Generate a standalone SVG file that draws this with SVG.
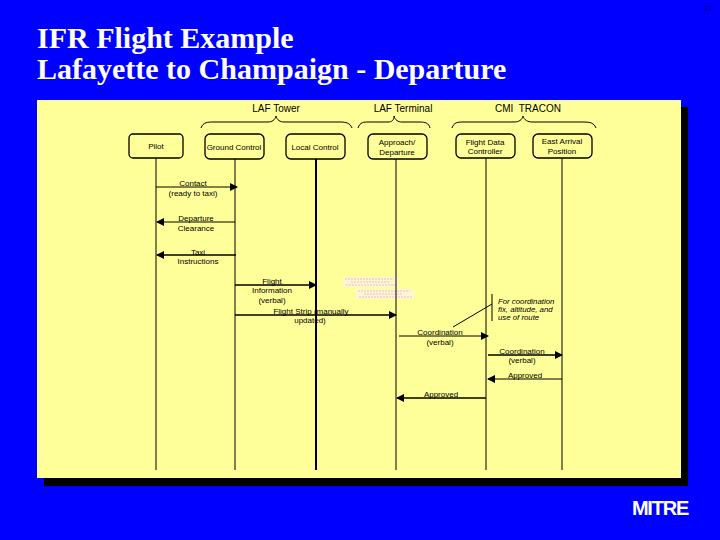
<svg xmlns="http://www.w3.org/2000/svg" width="720" height="540" viewBox="0 0 720 540">
<defs>
<marker id="ah" viewBox="0 0 8 8" refX="7" refY="4" markerWidth="8" markerHeight="8" markerUnits="userSpaceOnUse" orient="auto"><path d="M0,0L8,4L0,8Z" fill="#000"/></marker>
</defs>
<style>
text{font-family:"Liberation Sans",Arial,sans-serif;font-size:8px;fill:#000;text-anchor:middle}
.h{font-size:10px;white-space:pre}
.t{font-family:"Liberation Serif","Times New Roman",serif;font-size:30px;font-weight:bold;fill:#fff;text-anchor:start}
.i{font-style:italic;font-size:7.8px;text-anchor:start}
.box{fill:none;stroke:#000;stroke-width:1.3}
.ll{stroke:#000;stroke-width:1;fill:none}
.br{stroke:#000;stroke-width:1;fill:none}
.m{stroke:#000;stroke-width:1;fill:none;marker-end:url(#ah)}
.n{fill:#fff6d8}
.d{stroke:#e8789a;stroke-width:.8;stroke-dasharray:2 1;fill:none;opacity:.6}
</style>
<rect width="720" height="540" fill="#0000ff"/>
<text x="708" y="11" style="font-size:8px;fill:#000080">13</text>
<text class="t" x="37" y="48">IFR Flight Example</text>
<text class="t" x="37" y="79">Lafayette to Champaign - Departure</text>
<rect x="44" y="107" width="644" height="379" fill="#000"/>
<rect x="37" y="100" width="644" height="378" fill="#ffff99"/>

<g id="groups">
<text class="h" x="276" y="112">LAF Tower</text>
<path class="br" d="M201,128C203,122 208,122 214,122H268C272,122 275,120 276,116C277,120 280,122 284,122H340C346,122 350,123 352,128"/>
<text class="h" x="403" y="112">LAF Terminal</text>
<path class="br" d="M358,128C360,122 364,122 368,122H388C392,122 394,120 394,116C395,120 398,122 402,122H420C425,122 429,123 430,128"/>
<text class="h" x="528" y="112">CMI  TRACON</text>
<path class="br" d="M452,128C454,122 458,122 464,122H514C519,122 522,120 523,116C524,120 528,122 532,122H584C590,122 594,123 596,128"/>
</g>

<g id="note-text-patches">
<rect class="n" x="343" y="277" width="55" height="10"/>
<path class="d" d="M345,279H394M351,282H389M346,285H396"/>
<rect class="n" x="356" y="289" width="58" height="10"/>
<path class="d" d="M358,291H410M364,294H403M359,297H413"/>
</g>

<g id="connectors">
<path class="ll" d="M156,158V470"/>
<path class="ll" d="M235,159V470"/>
<path class="ll" style="stroke-width:2" d="M316,159V470"/>
<path class="ll" d="M396,159V470"/>
<path class="ll" d="M486,158V470"/>
<path class="ll" d="M562,158V470"/>
<path class="m" d="M156,187H237"/>
<path class="m" d="M235,222H157"/>
<path class="m" style="stroke-width:1.5" d="M236,255H157"/>
<path class="m" style="stroke-width:1.5" d="M235,285H316"/>
<path class="m" style="stroke-width:1.5" d="M235,315H396"/>
<path class="m" d="M399,336H488"/>
<path class="m" style="stroke-width:1.5" d="M488,355H562"/>
<path class="m" d="M562,379H488"/>
<path class="m" style="stroke-width:1.5" d="M486,398H397"/>
<path class="ll" d="M453,327L492,304"/>
<path class="ll" d="M492,294V321"/>
</g>

<g id="pilot"><rect class="box" x="129" y="134" width="54" height="24" rx="4"/><text x="156" y="149">Pilot</text></g>
<g id="ground-control"><rect class="box" x="205" y="134" width="59" height="25" rx="5"/><text x="234" y="150">Ground Control</text></g>
<g id="local-control"><rect class="box" x="286" y="134" width="59" height="25" rx="5"/><text x="315" y="150">Local Control</text></g>
<g id="approach-departure"><rect class="box" x="368" y="134" width="59" height="25" rx="5"/><text x="397" y="145">Approach/</text><text x="397" y="155">Departure</text></g>
<g id="flight-data-controller"><rect class="box" x="456" y="134" width="59" height="24" rx="5"/><text x="485" y="145">Flight Data</text><text x="485" y="154">Controller</text></g>
<g id="east-arrival-position"><rect class="box" x="533" y="134" width="59" height="24" rx="5"/><text x="562" y="144">East Arrival</text><text x="562" y="154">Position</text></g>

<g id="labels">
<text x="193" y="186">Contact</text><text x="193" y="196">(ready to taxi)</text>
<text x="196" y="221">Departure</text><text x="196" y="231">Clearance</text>
<text x="198" y="255">Taxi</text><text x="198" y="264">Instructions</text>
<text x="272" y="284">Flight</text><text x="272" y="293">Information</text><text x="272" y="303">(verbal)</text>
<text x="311" y="314">Flight Strip (manually</text><text x="310" y="323">updated)</text>
<text x="440" y="335">Coordination</text><text x="440" y="345">(verbal)</text>
<text x="522" y="354">Coordination</text><text x="522" y="363">(verbal)</text>
<text x="525" y="378">Approved</text>
<text x="441" y="397">Approved</text>
<text class="i" x="498" y="304">For coordination</text><text class="i" x="498" y="312">fix, altitude, and</text><text class="i" x="498" y="320">use of route</text>
</g>
<text x="660" y="515" style="font-size:20px;font-weight:bold;fill:#fff;letter-spacing:-1.2px">MITRE</text>
</svg>
